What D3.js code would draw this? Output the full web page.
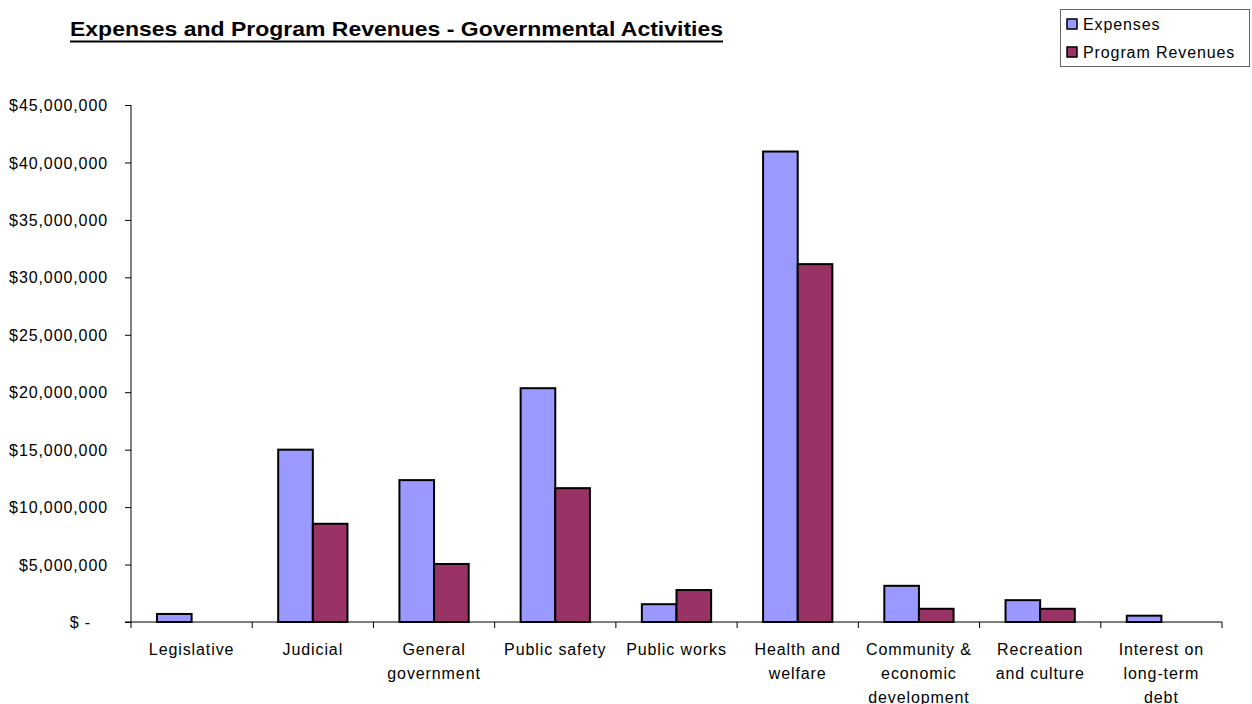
<!DOCTYPE html>
<html>
<head>
<meta charset="utf-8">
<script src="https://cdn.jsdelivr.net/npm/d3@7"></script>
<style>
  body { margin: 0; background: #fff; }
  svg { display: block; font-family: "Liberation Sans", Arial, sans-serif; }
  .lbl { font-size: 16px; letter-spacing: 0.9px; fill: #000; }
</style>
</head>
<body>
<svg id="chart" width="1252" height="704"></svg>
<script>
// data
var categories = ["Legislative", "Judicial", "General\ngovernment", "Public safety", "Public works",
                  "Health and\nwelfare", "Community &\neconomic\ndevelopment", "Recreation\nand culture",
                  "Interest on\nlong-term\ndebt"];
var expenses = [700000, 15000000, 12350000, 20350000, 1550000, 40950000, 3150000, 1900000, 550000];
var programRevenues = [0, 8550000, 5050000, 11650000, 2780000, 31150000, 1150000, 1150000, 0];
var seriesNames = ["Expenses", "Program Revenues"];
var seriesColors = ["#9999FF", "#993366"];
var yTicks = [0, 5000000, 10000000, 15000000, 20000000, 25000000, 30000000, 35000000, 40000000, 45000000];

var svg = d3.select("#chart");
var plotL = 131, plotR = 1222, plotT = 105, plotB = 622;

var x = d3.scaleBand()
    .domain(categories)
    .range([plotL, plotR]);

var y = d3.scaleLinear()
    .domain([0, 45000000])
    .range([plotB, plotT]);

// bar width like excel's gap width of 150
var barW = x.bandwidth() / 3.5;

var fmt = function(d) {
    if (d === 0) return "$ -";
    return "$" + d3.format(",")(d);
};

// y axis
var yAxis = svg.append("g")
    .attr("transform", "translate(" + plotL + ",0)")
    .call(d3.axisLeft(y).tickValues(yTicks).tickSize(6).tickPadding(17).tickFormat(fmt));
yAxis.select(".domain").attr("stroke", "#000").attr("d", "M0," + plotT + "V" + plotB);
yAxis.selectAll(".tick line").attr("stroke", "#000");
yAxis.selectAll(".tick text")
    .attr("class", "lbl")
    .attr("dy", "0.35em")
    .attr("font-family", null)
    .attr("font-size", null)
    // accounting format leaves room after the dash
    .attr("dx", function(d) { return d === 0 ? -17 : 0; });

// bars
var series = [expenses, programRevenues];
series.forEach(function(vals, si) {
    var rows = vals.map(function(v, i) { return { cat: categories[i], v: v }; })
        .filter(function(d) { return d.v > 0; });
    svg.append("g").selectAll("rect")
        .data(rows)
        .enter()
        .append("rect")
        .attr("x", function(d) { return x(d.cat) + x.bandwidth() / 2 - barW + si * barW; })
        .attr("y", function(d) { return y(d.v); })
        .attr("width", barW)
        .attr("height", function(d) { return plotB - y(d.v); })
        .attr("fill", seriesColors[si])
        .attr("stroke", "#000")
        .attr("stroke-width", 2);
});

// x axis
var xAxis = svg.append("g")
    .attr("transform", "translate(0," + plotB + ")");
xAxis.append("line")
    .attr("x1", plotL - 6).attr("x2", plotR)
    .attr("stroke", "#000");
var edges = categories.map(function(c) { return x(c); }).concat([plotR]);
xAxis.selectAll("line.tk")
    .data(edges)
    .enter()
    .append("line")
    .attr("class", "tk")
    .attr("x1", function(d) { return d; })
    .attr("x2", function(d) { return d; })
    .attr("y1", 0).attr("y2", 6)
    .attr("stroke", "#000");

var catText = xAxis.selectAll("text.cat")
    .data(categories)
    .enter()
    .append("text")
    .attr("class", "lbl cat")
    .attr("text-anchor", "middle")
    .attr("y", 33);
catText.selectAll("tspan")
    .data(function(d) { return d.split("\n").map(function(t) { return { t: t, c: d }; }); })
    .enter()
    .append("tspan")
    .attr("x", function(d) { return x(d.c) + x.bandwidth() / 2; })
    .attr("dy", function(d, i) { return i === 0 ? 0 : 24; })
    .text(function(d) { return d.t; });

// title
svg.append("text")
    .attr("x", 70)
    .attr("y", 36)
    .attr("textLength", 653)
    .attr("lengthAdjust", "spacingAndGlyphs")
    .style("font-size", "21px")
    .style("font-weight", "bold")
    .text("Expenses and Program Revenues - Governmental Activities");
svg.append("line")
    .attr("x1", 70).attr("x2", 723)
    .attr("y1", 41.5).attr("y2", 41.5)
    .attr("stroke", "#000")
    .attr("stroke-width", 2);

// legend
var legend = svg.append("g");
legend.append("rect")
    .attr("x", 1060.5).attr("y", 9.5)
    .attr("width", 189).attr("height", 57)
    .attr("fill", "#fff")
    .attr("stroke", "#666");
var items = legend.selectAll("g.item")
    .data(seriesNames)
    .enter()
    .append("g")
    .attr("transform", function(d, i) { return "translate(1067," + (19 + i * 28) + ")"; });
items.append("rect")
    .attr("width", 10).attr("height", 10)
    .attr("fill", function(d, i) { return seriesColors[i]; })
    .attr("stroke", "#000")
    .attr("stroke-width", 1.5);
items.append("text")
    .attr("class", "lbl")
    .attr("x", 16)
    .attr("y", 11)
    .text(function(d) { return d; });
</script>
</body>
</html>
